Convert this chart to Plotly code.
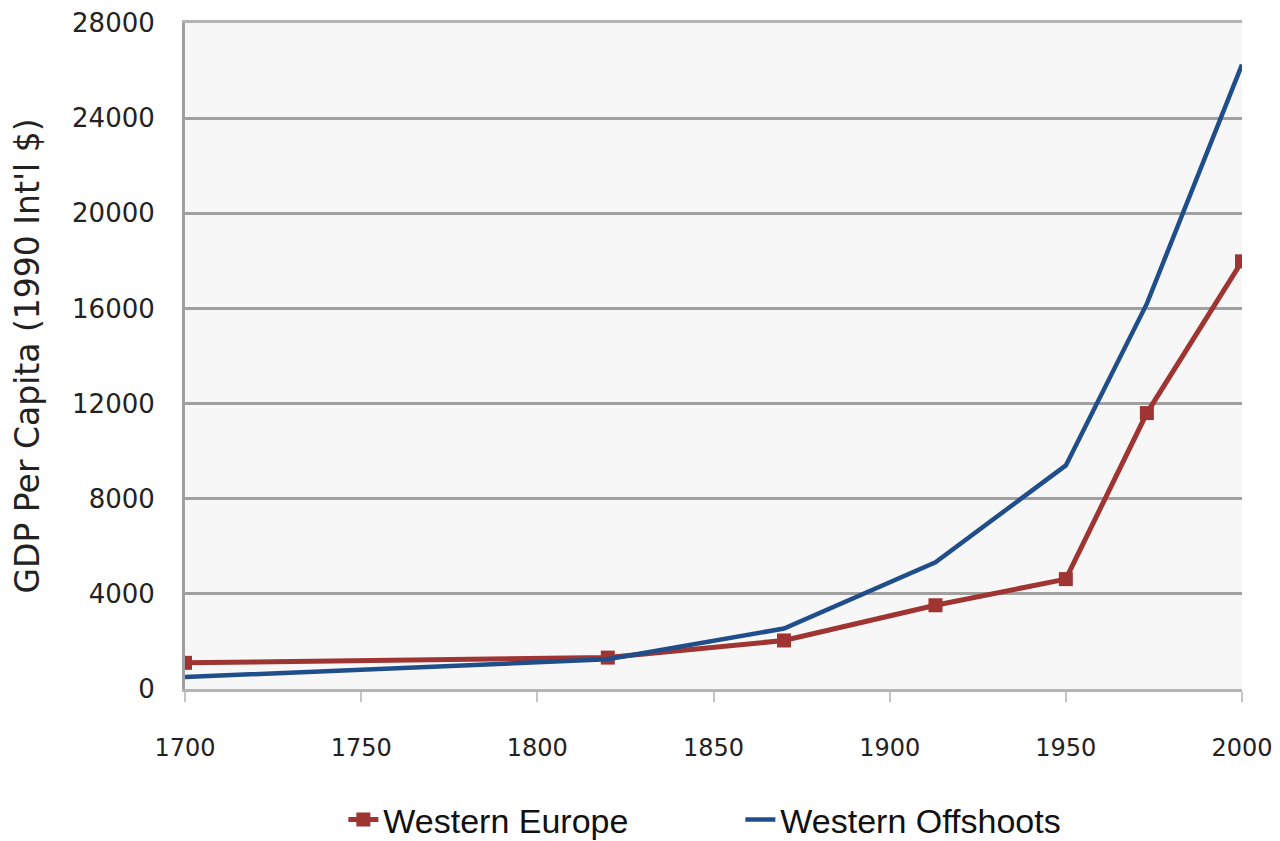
import plotly.graph_objects as go

years = [1700, 1820, 1870, 1913, 1950, 1973, 2000]
western_europe = [1100, 1320, 2040, 3520, 4620, 11600, 17980]
western_offshoots = [500, 1250, 2540, 5330, 9400, 16200, 26250]

y_ticks = [0, 4000, 8000, 12000, 16000, 20000, 24000, 28000]
y_tick_labels = ["0", "4000", "8000", "12000", "16000", "20000", "24000", "28000"]
x_ticks = [1700, 1750, 1800, 1850, 1900, 1950, 2000]

fig = go.Figure()
fig.add_trace(go.Scatter(
    x=years, y=western_europe, name="Western Europe", mode="lines+markers",
    line=dict(color="#9e3532", width=5),
    marker=dict(symbol="square", size=14, color="#9e3532"),
))
fig.add_trace(go.Scatter(
    x=years, y=western_offshoots, name="Western Offshoots", mode="lines",
    line=dict(color="#1f4e8a", width=4.5),
))

fig.update_layout(
    width=1280, height=841,
    margin=dict(l=177, r=46, t=15, b=160, autoexpand=False),
    paper_bgcolor="white", plot_bgcolor="#f7f7f7",
    font=dict(family="DejaVu Sans", size=26, color="#222"),
    showlegend=True,
    legend=dict(orientation="h", xref="container", yref="container",
                x=0.262, xanchor="left", y=0.0, yanchor="bottom",
                font=dict(family="Liberation Sans Narrow, Liberation Sans", size=34, color="#111"),
                entrywidth=352, entrywidthmode="pixels", traceorder="normal",
                bgcolor="rgba(0,0,0,0)"),
)
fig.update_xaxes(
    range=[1700, 2000], tickvals=x_ticks, showgrid=False,
    showline=True, linecolor="#b4b4b4", linewidth=3, mirror=True,
    ticks="outside", ticklen=10, tickcolor="#c4c4c4", tickwidth=2,
    ticklabelstandoff=25, zeroline=False, tickfont=dict(size=24),
)
fig.update_yaxes(
    range=[0, 28000], tickvals=y_ticks, ticktext=y_tick_labels,
    showgrid=True, gridcolor="#a0a0a0", gridwidth=3,
    showline=True, linecolor="#a0a0a0", linewidth=3, zeroline=False,
    ticks="", ticklabelstandoff=22, ticklabeloverflow="allow",
    title=dict(text="GDP Per Capita (1990 Int'l $)", standoff=24,
               font=dict(family="DejaVu Sans", size=33, color="#222")),
)
fig.write_html("out.html")
